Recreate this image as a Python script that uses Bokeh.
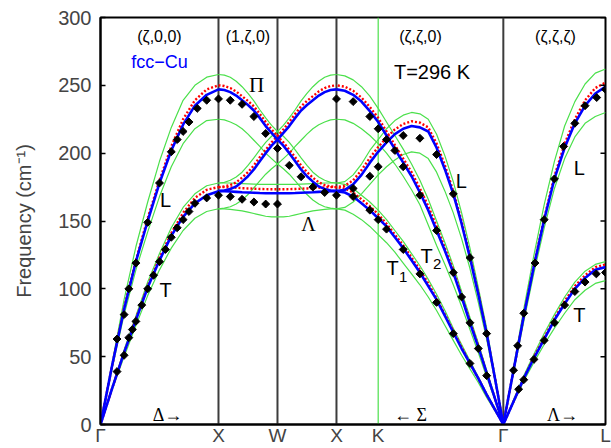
import math
from bokeh.plotting import figure
from bokeh.models import Label, Span, FixedTicker
from bokeh.embed import file_html
from bokeh.resources import INLINE

SQ2 = math.sqrt(2.0)
SQ3 = math.sqrt(3.0)

# high-symmetry points along the path (units of 2*pi/a)
SYM_NAMES = ["Γ", "X", "W", "X", "K", "Γ", "L"]
SYM_POS = [0, 1, 1.5, 2, 2.3536, 3.4142, 4.2802]
Y_TICKS = [0, 50, 100, 150, 200, 250, 300]

# ---------------- (zeta,0,0)  Gamma -> X ----------------
D_Z = [0.0, 0.1, 0.2, 0.3, 0.4, 0.5, 0.6, 0.7, 0.8, 0.9, 1.0]
D_L_BLUE = [0, 44, 85, 120, 150, 178, 202, 221, 235, 243, 247]
D_L_RED = [0, 44, 86, 121, 152, 180, 205, 225, 239, 247, 250]
D_L_GHI = [0, 46, 92, 131, 164, 194, 219, 239, 250, 256, 258]
D_L_GLO = [0, 42, 81, 114, 142, 168, 190, 207, 218, 224, 225]
D_T_BLUE = [0, 27, 53, 77, 101, 121, 139, 153, 163, 169, 172]
D_T_RED = [0, 27, 53, 78, 102, 123, 141, 156, 167, 173, 175]
D_T_GHI = [0, 28, 55, 80, 105, 126, 145, 160, 170, 176, 178]
D_T_GLO = [0, 26, 50, 73, 95, 114, 130, 143, 152, 157, 159]

# ---------------- (1,zeta,0)  X -> W -> X ----------------
W_Z = [0.0, 0.05, 0.1, 0.15, 0.2, 0.25, 0.3, 0.35, 0.4, 0.45, 0.5,
       0.55, 0.6, 0.65, 0.7, 0.75, 0.8, 0.85, 0.9, 0.95, 1.0]
W_A_BLUE = [247, 246.5, 245, 242.5, 239, 235.5, 231.5, 226, 220, 215, 210,
            215, 220, 226, 231.5, 235.5, 239, 242.5, 245, 246.5, 247]
W_B_BLUE = [172, 172.5, 173.5, 175.5, 179, 183, 188, 194, 200, 205.5, 210,
            205.5, 200, 194, 188, 183, 179, 175.5, 173.5, 172.5, 172]
W_C_BLUE = [172, 172, 171.8, 171.5, 171.2, 171, 170.8, 170.6, 170.5, 170.4, 170.4,
            170.4, 170.5, 170.6, 170.8, 171, 171.2, 171.5, 171.8, 172, 172]
W_A_RED = [250, 249.5, 248, 245.5, 242, 238.5, 234.5, 229, 223, 217.5, 212.5,
           217.5, 223, 229, 234.5, 238.5, 242, 245.5, 248, 249.5, 250]
W_B_RED = [175, 175.5, 176.5, 178.5, 182, 186, 191, 197, 202.5, 208, 212.5,
           208, 202.5, 197, 191, 186, 182, 178.5, 176.5, 175.5, 175]
W_C_RED = [175, 175, 174.8, 174.5, 174.2, 174, 173.8, 173.6, 173.5, 173.4, 173.4,
           173.4, 173.5, 173.6, 173.8, 174, 174.2, 174.5, 174.8, 175, 175]
W_A_GHI = [258, 257.5, 256, 253, 249, 244, 238.5, 232, 226, 220.5, 216,
           220.5, 226, 232, 238.5, 244, 249, 253, 256, 257.5, 258]
W_A_GLO = [225, 224.5, 223, 221, 218, 214, 209.5, 205, 200, 196, 192,
           196, 200, 205, 209.5, 214, 218, 221, 223, 224.5, 225]
W_B_GHI = [178, 178.5, 180, 182.5, 186, 191, 196.5, 202.5, 208, 212.5, 216,
           212.5, 208, 202.5, 196.5, 191, 186, 182.5, 180, 178.5, 178]
W_B_GLO = [159, 159.5, 160.5, 162.5, 165.5, 169.5, 174.5, 179.5, 184.5, 188.5, 192,
           188.5, 184.5, 179.5, 174.5, 169.5, 165.5, 162.5, 160.5, 159.5, 159]
W_C_GHI = [178, 178, 178, 177.8, 177.6, 177.4, 177.2, 177, 177, 177, 177,
           177, 177, 177, 177.2, 177.4, 177.6, 177.8, 178, 178, 178]
W_C_GLO = [159, 159, 158.5, 158, 157.5, 156.5, 155.5, 154.5, 153.5, 153, 153,
           153, 153.5, 154.5, 155.5, 156.5, 157.5, 158, 158.5, 159, 159]

# ---------------- (zeta,zeta,0)  X -> K -> Gamma ----------------
S_Z = [0.0, 0.05, 0.1, 0.15, 0.2, 0.25, 0.3, 0.35, 0.4, 0.45, 0.5,
       0.55, 0.6, 0.65, 0.7, 0.75, 0.8, 0.85, 0.9, 0.95, 1.0]
S_L_BLUE = [0, 34, 67, 96, 123, 148, 170, 188, 204, 216, 219,
            220, 218, 214, 208, 201, 193, 184, 177, 173, 172]
S_L_RED = [0, 34, 67, 97, 124, 150, 172, 191, 207, 219, 222.5,
           223.5, 221.5, 217.5, 211.5, 204.5, 196.5, 187.5, 180, 176, 175]
S_L_GHI = [0, 36, 71, 101, 130, 156, 179, 198, 214, 225, 229,
           230, 228, 224, 218, 210, 202, 192, 184, 179, 178]
S_L_GLO = [0, 32, 63, 90, 115, 137, 156, 172, 186, 196, 200,
           201, 199, 195, 190, 184, 177, 170, 164, 160, 159]
S_T2_BLUE = [0, 19, 38, 57, 75, 94, 112, 128, 143, 158, 171,
             183, 193, 203, 213, 223, 231, 238, 243, 246, 247]
S_T2_RED = [0, 19, 38, 58, 76, 95, 114, 130, 146, 161, 174,
            186, 196, 206, 216, 226, 234, 241, 246, 249, 250]
S_T2_GHI = [0, 20, 40, 60, 79, 98, 117, 134, 150, 166, 180,
            192, 203, 213, 223, 233, 242, 249, 254, 257, 258]
S_T2_GLO = [0, 18, 35, 53, 70, 87, 103, 118, 132, 147, 162,
            173, 183, 192, 200, 207, 213, 218, 222, 224.5, 225]
S_T1_BLUE = [0, 11, 22, 34, 45, 56, 68, 80, 92, 102, 112,
             121, 130, 138, 146, 152, 158, 163, 168, 171, 172]
S_T1_RED = [0, 11, 22, 34, 45, 57, 69, 81, 93, 104, 114,
            123, 132, 140, 148, 155, 161, 166, 171, 174, 175]
S_T1_GHI = [0, 12, 23, 35, 47, 59, 71, 84, 96, 107, 117,
            126, 135, 143, 151, 158, 164, 169, 174, 177, 178]
S_T1_GLO = [0, 10, 20, 31, 41, 51, 62, 73, 84, 94, 103,
            111, 119, 127, 134, 140, 146, 151, 155, 158, 159]

# ---------------- (zeta,zeta,zeta)  Gamma -> L ----------------
LA_Z = [0.0, 0.05, 0.1, 0.15, 0.2, 0.25, 0.3, 0.35, 0.4, 0.45, 0.5]
LA_L_BLUE = [0, 40, 80, 117, 151, 181, 204, 222, 235, 244, 249]
LA_L_RED = [0, 40, 80, 118, 152, 183, 207, 225, 239, 248, 252]
LA_L_GHI = [0, 42, 85, 125, 162, 194, 220, 238, 251, 259, 262]
LA_L_GLO = [0, 38, 76, 112, 145, 174, 196, 212, 222, 227, 230]
LA_T_BLUE = [0, 17, 34, 49, 63, 77, 89, 100, 108, 114, 116]
LA_T_RED = [0, 17, 34, 50, 64, 78, 91, 102, 110, 116, 118]
LA_T_GHI = [0, 18, 36, 52, 67, 81, 94, 105, 113, 118, 120]
LA_T_GLO = [0, 16, 32, 46, 59, 71, 82, 92, 99, 104, 106]

# ---------------- experimental points (T = 296 K) ----------------
EXP_D_L_Z = [0.14, 0.2, 0.24, 0.3, 0.4, 0.5, 0.6, 0.65, 0.7, 0.75, 0.82, 0.9, 1.0]
EXP_D_L_F = [63, 81, 100, 119, 149, 178, 201, 210, 216, 223, 233, 239, 240]
EXP_D_T_Z = [0.14, 0.2, 0.24, 0.27, 0.3, 0.35, 0.4, 0.45, 0.5, 0.55, 0.6, 0.65,
             0.7, 0.75, 0.8, 0.9, 1.0]
EXP_D_T_F = [39, 51, 64, 70, 76, 88, 100, 110, 120, 129, 138, 145, 151, 157, 163, 167, 169]
EXP_W_Z = [0.1, 0.2, 0.3, 0.4, 0.5, 0.6, 0.7, 0.8, 0.9, 0.1, 0.2, 0.3, 0.4, 0.5]
EXP_W_F = [239, 236, 227, 214.5, 203.5, 191, 182.6, 175, 171, 168, 166, 164, 162.5, 162.5]
EXP_S_T2_Z = [1.0, 0.9, 0.8, 0.75, 0.7, 0.65, 0.6, 0.5, 0.4, 0.3, 0.25, 0.2, 0.15, 0.1]
EXP_S_T2_F = [240, 238, 227, 218, 210, 202, 190, 169, 143, 112, 94, 75, 56, 36]
EXP_S_L_Z = [0.9, 0.8, 0.75, 0.6, 0.5, 0.4, 0.3, 0.2, 0.1]
EXP_S_L_F = [174, 183, 190, 213, 211, 199, 170, 123, 67]
EXP_S_T1_Z = [1.0, 0.9, 0.8, 0.75, 0.7, 0.6, 0.5, 0.4, 0.3, 0.2]
EXP_S_T1_F = [169, 168, 158, 151, 144, 129, 111, 90, 67, 45]
EXP_LA_L_Z = [0.05, 0.07, 0.1, 0.155, 0.2, 0.25, 0.295, 0.35, 0.4, 0.457, 0.5]
EXP_LA_L_F = [40, 58, 82, 119, 151, 181, 205, 222, 235, 241, 247]
EXP_LA_T_Z = [0.075, 0.1, 0.15, 0.2, 0.25, 0.3, 0.35, 0.4, 0.455, 0.5]
EXP_LA_T_F = [26, 33, 48, 62, 75, 88, 98, 105, 111, 112]


def path_x(seg, z):
    """map the reduced wave-vector coordinate of a direction to path distance"""
    if seg == "D":
        return [float(v) for v in z]
    if seg == "W":
        return [1.0 + v for v in z]
    if seg == "S":
        return [2.0 + SQ2 * (1.0 - v) for v in z]
    return [2.0 + SQ2 + SQ3 * v for v in z]


GREEN = "#4be04b"
SEGMENTS = [
    ("D", D_Z, [D_L_BLUE, D_T_BLUE], [D_L_RED, D_T_RED],
     [D_L_GHI, D_L_GLO, D_T_GHI, D_T_GLO]),
    ("W", W_Z, [W_A_BLUE, W_B_BLUE, W_C_BLUE], [W_A_RED, W_B_RED, W_C_RED],
     [W_A_GHI, W_A_GLO, W_B_GHI, W_B_GLO, W_C_GHI, W_C_GLO]),
    ("S", S_Z, [S_L_BLUE, S_T2_BLUE, S_T1_BLUE], [S_L_RED, S_T2_RED, S_T1_RED],
     [S_L_GHI, S_L_GLO, S_T2_GHI, S_T2_GLO, S_T1_GHI, S_T1_GLO]),
    ("L", LA_Z, [LA_L_BLUE, LA_T_BLUE], [LA_L_RED, LA_T_RED],
     [LA_L_GHI, LA_L_GLO, LA_T_GHI, LA_T_GLO]),
]
EXPERIMENT = [
    ("D", EXP_D_L_Z, EXP_D_L_F), ("D", EXP_D_T_Z, EXP_D_T_F),
    ("W", EXP_W_Z, EXP_W_F),
    ("S", EXP_S_T2_Z, EXP_S_T2_F), ("S", EXP_S_L_Z, EXP_S_L_F), ("S", EXP_S_T1_Z, EXP_S_T1_F),
    ("L", EXP_LA_L_Z, EXP_LA_L_F), ("L", EXP_LA_T_Z, EXP_LA_T_F),
]

p = figure(width=611, height=448, x_range=(SYM_POS[0], SYM_POS[-1]), y_range=(0, 300),
           output_backend="svg", toolbar_location=None,
           min_border_left=100, min_border_right=6, min_border_top=17, min_border_bottom=0)
p.background_fill_color = "white"
p.border_fill_color = "white"
p.outline_line_color = "black"
p.outline_line_width = 2
p.grid.visible = False

# vertical lines at high-symmetry points
for pos, name in zip(SYM_POS[1:-1], SYM_NAMES[1:-1]):
    if name == "K":
        sp = Span(location=pos, dimension="height", line_color=GREEN, line_width=1.2, level="underlay")
    else:
        sp = Span(location=pos, dimension="height", line_color="#3c3c3c", line_width=2, level="underlay")
    p.add_layout(sp)

for seg, z, blues, reds, greens in SEGMENTS:
    xs = path_x(seg, z)
    for g in greens:
        p.line(xs, g, line_color=GREEN, line_width=1.2)
for seg, z, blues, reds, greens in SEGMENTS:
    xs = path_x(seg, z)
    for r in reds:
        p.line(xs, r, line_color="#ff0000", line_width=2.4, line_dash="2 2")
for seg, z, blues, reds, greens in SEGMENTS:
    xs = path_x(seg, z)
    for b in blues:
        p.line(xs, b, line_color="#0000ff", line_width=2.6)
for seg, z, f in EXPERIMENT:
    p.scatter(path_x(seg, z), f, marker="square", angle=math.pi / 4, size=5.6,
              fill_color="black", line_color="black")

# inward ticks on the right frame edge
p.ray(x=[SYM_POS[-1]] * len(Y_TICKS), y=Y_TICKS, length=5, length_units="screen",
      angle=math.pi, line_color="black", line_width=1.5)

SANS = "Liberation Sans"
SERIF = "Liberation Serif"

# y axis
p.yaxis.ticker = FixedTicker(ticks=Y_TICKS)
p.yaxis.axis_label = "Frequency (cm⁻¹)"
p.yaxis.axis_label_text_font = SANS
p.yaxis.axis_label_text_font_style = "normal"
p.yaxis.axis_label_text_font_size = "20px"
p.yaxis.axis_label_standoff = 20
p.yaxis.major_label_text_font = SANS
p.yaxis.major_label_text_font_size = "20px"
p.yaxis.major_label_standoff = 9
p.yaxis.major_tick_in = 5
p.yaxis.major_tick_out = 0
p.yaxis.minor_tick_in = 0
p.yaxis.minor_tick_out = 0
p.yaxis.axis_line_width = 2
p.yaxis.major_tick_line_width = 1.5

# x axis: high-symmetry point names
p.xaxis.ticker = FixedTicker(ticks=SYM_POS)
p.xaxis.major_label_overrides = {pos: name for pos, name in zip(SYM_POS, SYM_NAMES)}
p.xaxis.major_label_text_font = SANS
p.xaxis.major_label_text_font_size = "19px"
p.xaxis.major_label_standoff = 0
p.xaxis.major_tick_in = 0
p.xaxis.major_tick_out = 0
p.xaxis.minor_tick_in = 0
p.xaxis.minor_tick_out = 0
p.xaxis.axis_line_width = 2


def lab(x, y, text, size, font=SANS, color="black", align="center"):
    p.add_layout(Label(x=x, y=y, text=text, text_font=font, text_font_size=size,
                       text_color=color, text_align=align, text_baseline="middle"))


lab(0.5, 286, "(ζ,0,0)", "16px")
lab(1.25, 286, "(1,ζ,0)", "16px")
lab(2.712, 286, "(ζ,ζ,0)", "16px")
lab(3.856, 286, "(ζ,ζ,ζ)", "16px")
lab(0.5, 267.5, "fcc−Cu", "18px", color="#0000ff")
lab(2.81, 260, "T=296 K", "20px")
lab(1.322, 250, "Π", "21px", font=SERIF)
lab(1.763, 148, "Λ", "20px", font=SERIF)
lab(0.551, 165.5, "L", "20px")
lab(0.551, 99, "T", "20px")
lab(2.475, 115.5, "T", "20px")
lab(2.565, 109, "1", "15px")
lab(2.763, 124.5, "T", "20px")
lab(2.853, 118, "2", "15px")
lab(3.059, 179.5, "L", "20px")
lab(4.059, 189, "L", "20px")
lab(4.059, 81, "T", "20px")
lab(0.568, 6.8, "Δ→", "18px", font=SERIF)
lab(2.627, 6.8, "← Σ", "18px", font=SERIF)
lab(3.915, 6.8, "Λ→", "18px", font=SERIF)

open("out.html", "w").write(file_html(p, INLINE))
